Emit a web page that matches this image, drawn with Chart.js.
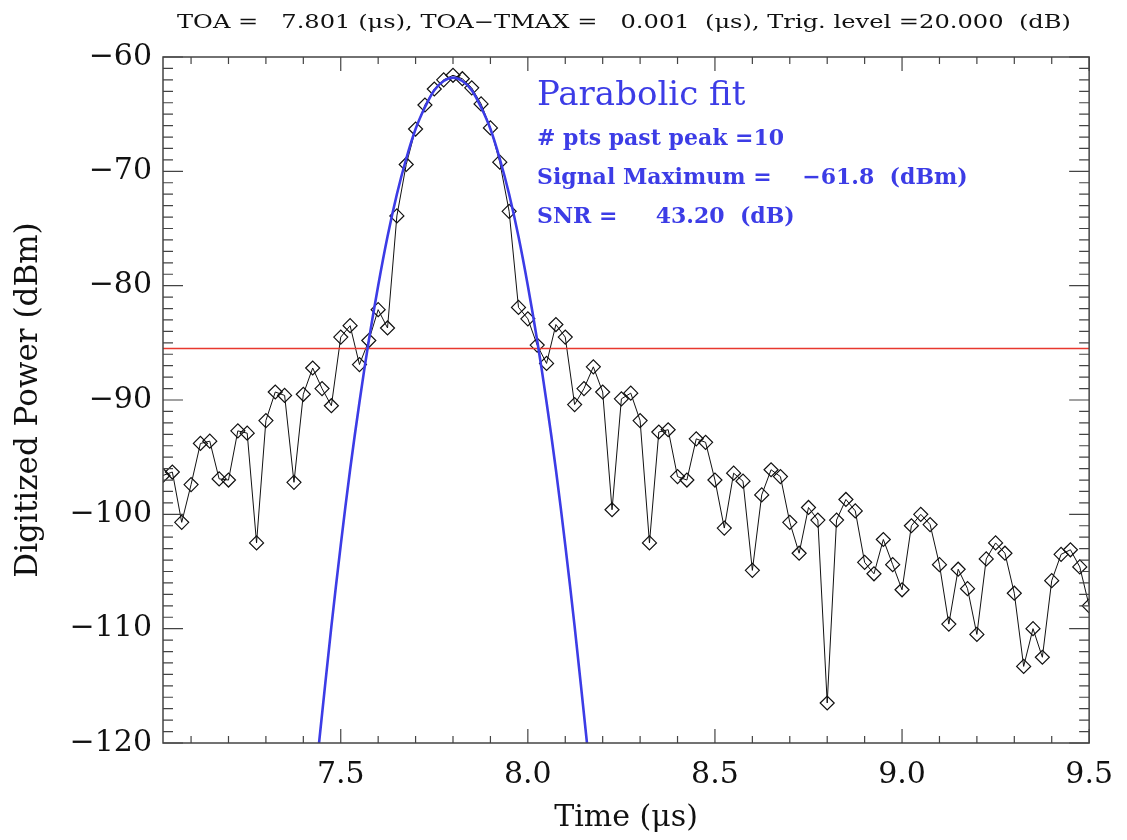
<!DOCTYPE html>
<html>
<head>
<meta charset="utf-8">
<script src="https://cdn.jsdelivr.net/npm/chart.js@4/dist/chart.umd.min.js"></script>
<style>
  html, body { margin: 0; padding: 0; background: #fff; }
  #wrap { width: 1127px; height: 840px; }
</style>
</head>
<body>
<div id="wrap"><canvas id="toaChart"></canvas></div>
<script>
(() => {
  "use strict";

  // ── Data ───────────────────────────────────────────────────────────
  const sampleTimes = [
    7.025, 7.050, 7.075, 7.100, 7.125, 7.150, 7.175, 7.200, 7.225, 7.250,
    7.275, 7.300, 7.325, 7.350, 7.375, 7.400, 7.425, 7.450, 7.475, 7.500,
    7.525, 7.550, 7.575, 7.600, 7.625, 7.650, 7.675, 7.700, 7.725, 7.750,
    7.775, 7.800, 7.825, 7.850, 7.875, 7.900, 7.925, 7.950, 7.975, 8.000,
    8.025, 8.050, 8.075, 8.100, 8.125, 8.150, 8.175, 8.200, 8.225, 8.250,
    8.275, 8.300, 8.325, 8.350, 8.375, 8.400, 8.425, 8.450, 8.475, 8.500,
    8.525, 8.550, 8.575, 8.600, 8.625, 8.650, 8.675, 8.700, 8.725, 8.750,
    8.775, 8.800, 8.825, 8.850, 8.875, 8.900, 8.925, 8.950, 8.975, 9.000,
    9.025, 9.050, 9.075, 9.100, 9.125, 9.150, 9.175, 9.200, 9.225, 9.250,
    9.275, 9.300, 9.325, 9.350, 9.375, 9.400, 9.425, 9.450, 9.475, 9.500,
  ];
  const powerDbm = [
    -96.6, -96.3, -100.7, -97.4, -93.8, -93.6, -96.9, -97.0, -92.7, -92.9,
    -102.5, -91.8, -89.3, -89.6, -97.2, -89.5, -87.2, -89.0, -90.5, -84.5,
    -83.5, -86.9, -84.8, -82.1, -83.7, -73.9, -69.4, -66.3, -64.2, -62.8,
    -62.0, -61.6, -61.9, -62.7, -64.1, -66.2, -69.2, -73.5, -81.9, -82.9,
    -85.2, -86.8, -83.4, -84.5, -90.4, -89.0, -87.1, -89.3, -99.6, -89.9,
    -89.4, -91.8, -102.5, -92.8, -92.6, -96.7, -97.0, -93.4, -93.7, -97.0,
    -101.2, -96.4, -97.1, -104.9, -98.3, -96.1, -96.7, -100.7, -103.4, -99.4,
    -100.5, -116.5, -100.5, -98.7, -99.7, -104.2, -105.2, -102.2, -104.4, -106.6,
    -101.0, -100.0, -100.9, -104.4, -109.6, -104.8, -106.5, -110.5, -103.9, -102.5,
    -103.4, -106.9, -113.3, -110.0, -112.5, -105.8, -103.5, -103.1, -104.6, -108.0,
  ];

  // blue parabolic fit, sampled along the drawn curve
  const fitTimes = [
    7.442, 7.475, 7.500, 7.525, 7.550, 7.575, 7.600, 7.625, 7.650, 7.675,
    7.700, 7.725, 7.750, 7.775, 7.800, 7.825, 7.850, 7.875, 7.900, 7.925,
    7.950, 7.975, 8.000, 8.025, 8.050, 8.075, 8.100, 8.125, 8.158,
  ];
  const fitDbm = [
    -120.0, -109.8, -102.7, -96.1, -90.2, -84.8, -80.0, -75.7, -72.0, -68.9,
    -66.3, -64.4, -62.9, -62.1, -61.8, -62.1, -62.9, -64.4, -66.3, -68.9,
    -72.0, -75.7, -80.0, -84.8, -90.2, -96.1, -102.7, -109.8, -120.0,
  ];

  const trigLevel = -85.5;
  const timeRange = [7.025, 9.5];
  const powerRange = [-120, -60];
  const xTickLabels = [7.5, 8.0, 8.5, 9.0, 9.5];

  const titleText = "TOA =   7.801 (\u03bcs), TOA\u2212TMAX =   0.001  (\u03bcs), Trig. level =20.000  (dB)";
  const fitLines = [
    "# pts past peak =10",
    "Signal Maximum =    \u221261.8  (dBm)",
    "SNR =     43.20  (dB)",
  ];

  const serif = "'DejaVu Serif', 'Liberation Serif', serif";
  const blue = "#3c3ce6";

  const toXY = (xs, ys) => xs.map((t, i) => ({ x: t, y: ys[i] }));

  // ── IDL-style box with inward ticks on all four sides ──────────────
  const idlFrame = {
    id: "idlFrame",
    afterDatasetsDraw(chart) {
      const { ctx, chartArea: a, scales: { x, y } } = chart;
      ctx.save();
      ctx.strokeStyle = "#444";
      ctx.lineWidth = 1.5;
      ctx.strokeRect(a.left, a.top, a.right - a.left, a.bottom - a.top);
      ctx.beginPath();
      for (let k = 71; k <= 95; k++) {
        const px = x.getPixelForValue(k / 10);
        const len = k % 5 === 0 ? 14 : 7;
        ctx.moveTo(px, a.bottom); ctx.lineTo(px, a.bottom - len);
        ctx.moveTo(px, a.top); ctx.lineTo(px, a.top + len);
      }
      for (let v = powerRange[0]; v <= powerRange[1]; v++) {
        const py = y.getPixelForValue(v);
        const len = v % 10 === 0 ? 20 : 10;
        ctx.moveTo(a.left, py); ctx.lineTo(a.left + len, py);
        ctx.moveTo(a.right, py); ctx.lineTo(a.right - len, py);
      }
      ctx.lineWidth = 1.2;
      ctx.stroke();
      ctx.restore();
    },
  };

  // ── Title line and the blue fit annotation ─────────────────────────
  const textLayer = {
    id: "textLayer",
    afterDraw(chart) {
      const { ctx, chartArea: a } = chart;
      ctx.save();
      ctx.fillStyle = "#111";
      ctx.font = "19px " + serif;
      ctx.textAlign = "center";
      ctx.textBaseline = "alphabetic";
      const w = ctx.measureText(titleText).width;
      const target = 894;
      ctx.translate(624, 28);
      ctx.scale(target / w, 1);
      ctx.fillText(titleText, 0, 0);
      ctx.restore();

      ctx.save();
      ctx.fillStyle = blue;
      ctx.textAlign = "left";
      ctx.font = "34px " + serif;
      ctx.fillText("Parabolic fit", a.left + 374, 105);
      ctx.font = "bold 22px " + serif;
      fitLines.forEach((line, i) => {
        ctx.fillText(line, a.left + 374, 145 + i * 39);
      });
      ctx.restore();
    },
  };

  new Chart(document.getElementById("toaChart"), {
    type: "line",
    data: {
      datasets: [
        {
          label: "Fit",
          data: toXY(fitTimes, fitDbm),
          borderColor: blue,
          borderWidth: 2.6,
          pointRadius: 0,
          tension: 0.35,
          fill: false,
        },
        {
          label: "Trigger",
          data: toXY(timeRange, [trigLevel, trigLevel]),
          borderColor: "#e8382e",
          borderWidth: 1.5,
          pointRadius: 0,
          fill: false,
        },
        {
          label: "Power",
          data: toXY(sampleTimes, powerDbm),
          borderColor: "#111",
          borderWidth: 1,
          pointStyle: "rectRot",
          pointRadius: 7,
          pointBorderWidth: 1.2,
          pointBorderColor: "#111",
          pointBackgroundColor: "rgba(255,255,255,0)",
          tension: 0,
          fill: false,
        },
      ],
    },
    options: {
      responsive: true,
      maintainAspectRatio: false,
      animation: false,
      layout: { padding: { top: 57, right: 33, left: 0, bottom: 0 } },
      plugins: {
        legend: { display: false },
        tooltip: { enabled: false },
      },
      scales: {
        x: {
          type: "linear",
          min: timeRange[0],
          max: timeRange[1],
          grid: { display: false, drawTicks: false },
          border: { display: false },
          afterFit: (s) => { s.height = 97; },
          ticks: {
            stepSize: 0.5,
            includeBounds: false,
            padding: 14,
            color: "#111",
            font: { family: serif, size: 30 },
            callback: (v) => (xTickLabels.some((t) => Math.abs(t - v) < 1e-6) ? v.toFixed(1) : ""),
          },
          title: {
            display: true,
            text: "Time (\u03bcs)",
            color: "#111",
            font: { family: serif, size: 30 },
            padding: { top: 0, bottom: 4 },
          },
        },
        y: {
          min: powerRange[0],
          max: powerRange[1],
          grid: { display: false, drawTicks: false },
          border: { display: false },
          afterFit: (s) => { s.width = 163; },
          ticks: {
            stepSize: 10,
            padding: 11,
            color: "#111",
            font: { family: serif, size: 30 },
            callback: (v) => (v < 0 ? "\u2212" : "") + Math.abs(v),
          },
          title: {
            display: true,
            text: "Digitized Power (dBm)",
            color: "#111",
            font: { family: serif, size: 31 },
            padding: { top: 10, bottom: 0 },
          },
        },
      },
    },
    plugins: [idlFrame, textLayer],
  });
})();
</script>
</body>
</html>
